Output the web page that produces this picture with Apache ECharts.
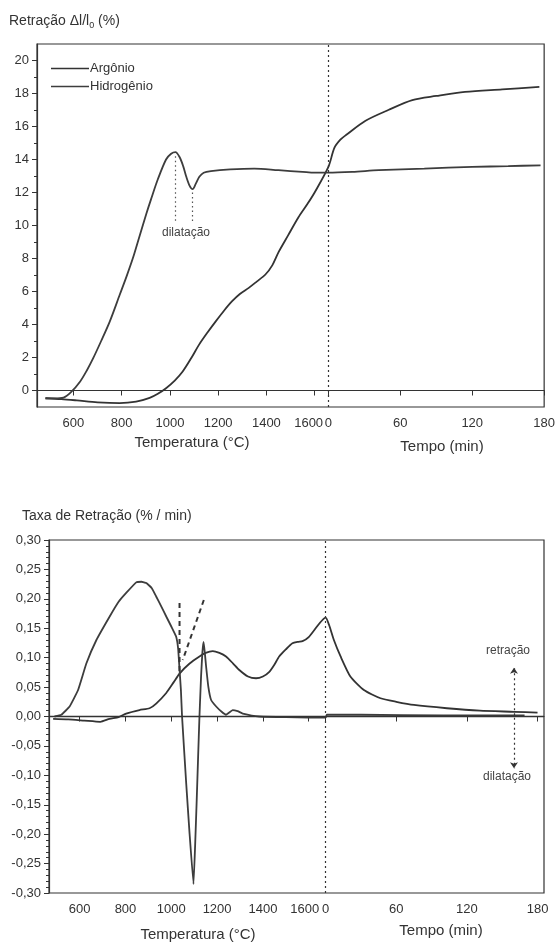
<!DOCTYPE html>
<html>
<head>
<meta charset="utf-8">
<script src="https://cdn.jsdelivr.net/npm/echarts@6/dist/echarts.min.js"></script>
<style>
  html, body { margin: 0; padding: 0; background: #fff; }
  #chart { width: 558px; height: 945px; }
</style>
</head>
<body>
<div id="chart"></div>
<script>
// ---- dados ----
// curva de retração (%) : aquecimento [T °C, valor] e patamar [t min, valor]
const topArgonHeat = [[484,-0.47],[550,-0.52],[614,-0.6],[700,-0.72],[792,-0.77],[860,-0.68],[916,-0.45],[950,-0.2],
  [984,0.14],[1020,0.6],[1053,1.15],[1090,2.0],[1121,2.78],[1155,3.5],[1190,4.19],[1225,4.85],[1258,5.41],
  [1290,5.85],[1327,6.22],[1360,6.6],[1396,7.03],[1425,7.6],[1451,8.4],[1490,9.4],[1533,10.5],[1570,11.3],[1600,12.0]]
const topArgonHold = [[0,13.55],[5,14.7],[10,15.2],[15,15.5],[31,16.35],[50,17.0],[70,17.6],[90,17.85],
  [114,18.1],[145,18.25],[176,18.4]]
const topHydroHeat = [[484,-0.47],[520,-0.48],[559,-0.43],[590,-0.1],[628,0.55],[655,1.2],[682,1.96],[715,3.0],
  [751,4.19],[792,5.8],[820,6.9],[847,8.04],[875,9.4],[902,10.7],[922,11.6],[950,12.8],[984,14.0],[1005,14.35],
  [1023,14.45],[1040,14.15],[1055,13.6],[1068,12.95],[1082,12.4],[1094,12.2],[1108,12.55],[1122,12.95],
  [1140,13.2],[1170,13.3],[1250,13.4],[1350,13.45],[1450,13.35],[1550,13.25],[1600,13.2]]
const topHydroHold = [[0,13.2],[20,13.25],[42,13.35],[80,13.45],[120,13.55],[150,13.6],[177,13.65]]

// taxa de retração (%/min)
const botArgonHeat = [[484,-0.004],[550,-0.005],[620,-0.007],[690,-0.009],[730,-0.004],[770,-0.001],[803,0.005],
  [861,0.011],[905,0.014],[934,0.022],[978,0.04],[1010,0.058],[1036,0.073],[1080,0.09],[1123,0.102],[1150,0.108],
  [1181,0.111],[1210,0.108],[1239,0.102],[1270,0.09],[1297,0.079],[1335,0.068],[1370,0.065],[1400,0.068],
  [1428,0.076],[1450,0.088],[1471,0.102],[1500,0.114],[1529,0.1245],[1555,0.127],[1573,0.128],[1600,0.135]]
const botArgonHold = [[0,0.168],[3,0.155],[7,0.13],[12.7,0.102],[21,0.068],[32.5,0.045],[46.6,0.031],[60,0.025],
  [75,0.0196],[103,0.014],[131,0.0099],[160,0.008],[180,0.0065]]
const botHydroHeat = [[490,0],[520,0.003],[556,0.017],[593,0.045],[629,0.09],[673,0.13],[731,0.17],[770,0.195],
  [803,0.21],[847,0.228],[870,0.229],[891,0.227],[915,0.218],[934,0.204],[955,0.188],[978,0.17],[1000,0.153],
  [1021,0.136],[1030,0.115],[1036,0.08],[1042,0.045],[1047,0],[1065,-0.113],[1080,-0.2],[1097,-0.285],
  [1104,-0.22],[1111,-0.142],[1117,-0.07],[1123,0],[1130,0.068],[1136,0.11],[1141,0.127],[1146,0.11],
  [1152,0.085],[1162,0.05],[1174,0.028],[1196,0.017],[1220,0.008],[1239,0.003],[1268,0.011],[1290,0.009],
  [1312,0.005],[1384,0],[1500,-0.001],[1600,-0.002]]
const botHydroHold = [[0,-0.002],[1,0.003],[30,0.003],[100,0.002],[169,0.002]]

// linhas tracejadas (tangentes) do gráfico de taxa
const tangent1 = [[1036,0.193],[1036,0.077]]
const tangent2 = [[1142,0.198],[1050,0.096]]

const topYLabels = [0,2,4,6,8,10,12,14,16,18,20]
const topYMinor = [1,3,5,7,9,11,13,15,17,19]
const tempTicks = [600,800,1000,1200,1400,1600]
const timeTicks = [0,60,120,180]

// eixo x composto: temperatura até 1600, depois o tempo de patamar
const T0_TOP = 1657, K_TOP = 4.97
const T0_BOT = 1674, K_BOT = 5.14
const topX = (t) => T0_TOP + K_TOP * t
const botX = (t) => T0_BOT + K_BOT * t

const joinTop = (heat, hold) => [...heat, ...hold.map((p) => [topX(p[0]), p[1]])]
const joinBot = (heat, hold) => [...heat, ...hold.map((p) => [botX(p[0]), p[1]])]

const topTicks = [...tempTicks, ...timeTicks.map(topX)]
const botTicks = [...tempTicks, ...timeTicks.map(botX)]

const INK = '#333'
const FONT = '"Liberation Sans", Arial, sans-serif'
const lbl = { color: INK, fontSize: 13, fontFamily: FONT }

// 1600 e 0 ficam colados: afasta um pouco o rótulo 1600
const xFmt = (T0, K) => (v) => {
  if (v <= 1600) return v === 1600 ? '{l|1600}' : String(Math.round(v))
  return String(Math.round((v - T0) / K))
}
const richTop = { l: { ...lbl, padding: [0, 12, 0, 0] } }
const richBot = { l: { ...lbl, padding: [0, 8, 0, 0] } }

const chart = echarts.init(document.getElementById('chart'))
chart.setOption({
  backgroundColor: '#fff',
  animation: false,
  textStyle: { fontFamily: FONT },
  grid: [
    { left: 37, right: 11, top: 44, height: 363, show: true, borderColor: INK, borderWidth: 1.2 },
    { left: 49, right: 14, top: 540, height: 353, show: true, borderColor: INK, borderWidth: 1.2 }
  ],
  legend: {
    left: 46, top: 57, orient: 'vertical', itemGap: 5, itemWidth: 38, itemHeight: 1.6, icon: 'rect',
    data: ['Argônio', 'Hidrogênio'], textStyle: { ...lbl, padding: [0, 0, 0, -4] }
  },
  xAxis: [
    { type: 'value', gridIndex: 0, min: 449, max: topX(180),
      axisLine: { lineStyle: { color: INK, width: 1.2 } },
      axisTick: { customValues: topTicks, length: 5, lineStyle: { color: INK } },
      axisLabel: { ...lbl, customValues: topTicks, margin: 10, formatter: xFmt(T0_TOP, K_TOP), rich: richTop },
      splitLine: { show: false } },
    { type: 'value', gridIndex: 1, min: 466, max: botX(185.5),
      axisLine: { lineStyle: { color: INK, width: 1.2 } },
      axisTick: { customValues: botTicks, length: 5, lineStyle: { color: INK } },
      axisLabel: { ...lbl, customValues: botTicks, margin: 10, formatter: xFmt(T0_BOT, K_BOT), rich: richBot },
      splitLine: { show: false } }
  ],
  yAxis: [
    { type: 'value', gridIndex: 0, min: -1, max: 21, position: 'left',
      axisLine: { show: true, lineStyle: { color: INK, width: 1.2 } },
      axisTick: { customValues: topYLabels, length: 5, lineStyle: { color: INK } },
      axisLabel: { ...lbl, customValues: topYLabels, margin: 8 },
      splitLine: { show: false } },
    { type: 'value', gridIndex: 0, min: -1, max: 21, position: 'left', offset: 0,
      axisLine: { show: false },
      axisTick: { customValues: topYMinor, length: 3, lineStyle: { color: INK } },
      axisLabel: { show: false },
      splitLine: { show: false } },
    { type: 'value', gridIndex: 1, min: -0.3, max: 0.3, interval: 0.05,
      axisLine: { show: true, lineStyle: { color: INK, width: 1.2 } },
      axisTick: { length: 5, lineStyle: { color: INK } },
      minorTick: { show: true, splitNumber: 5, length: 3, lineStyle: { color: INK } },
      axisLabel: { ...lbl, margin: 8, formatter: (v) => v.toFixed(2).replace('.', ',') },
      splitLine: { show: false } }
  ],
  series: [
    { name: 'Argônio', type: 'line', xAxisIndex: 0, yAxisIndex: 0, symbol: 'none', smooth: 0.3,
      lineStyle: { color: INK, width: 1.8 }, itemStyle: { color: INK },
      data: joinTop(topArgonHeat, topArgonHold),
      markLine: { silent: true, symbol: 'none', label: { show: false },
        lineStyle: { color: INK, type: [2, 3], width: 1.2 },
        data: [{ xAxis: topX(0) }] } },
    { name: 'Hidrogênio', type: 'line', xAxisIndex: 0, yAxisIndex: 0, symbol: 'none', smooth: 0.3,
      lineStyle: { color: '#3d3d3d', width: 1.8 }, itemStyle: { color: '#3d3d3d' },
      data: joinTop(topHydroHeat, topHydroHold),
      markLine: { silent: true, symbol: 'none', label: { show: false },
        lineStyle: { color: '#555', type: [1.5, 3], width: 1.2 },
        data: [
          [{ coord: [1023, 14.2] }, { coord: [1023, 10.1] }],
          [{ coord: [1094, 12.0] }, { coord: [1094, 10.1] }]
        ] } },
    { name: 'Argônio', type: 'line', xAxisIndex: 1, yAxisIndex: 2, symbol: 'none', smooth: 0.2,
      lineStyle: { color: INK, width: 1.8 },
      data: joinBot(botArgonHeat, botArgonHold),
      markLine: { silent: true, symbol: 'none', label: { show: false },
        lineStyle: { color: INK, type: [2, 3], width: 1.2 },
        data: [
          { xAxis: botX(0) },
          { yAxis: 0, lineStyle: { type: 'solid', width: 1.3 } },
          [{ coord: [botX(160), 0.002] }, { coord: [botX(160), 0.083], symbol: 'arrow', symbolSize: 6 }],
          [{ coord: [botX(160), -0.002] }, { coord: [botX(160), -0.088], symbol: 'arrow', symbolSize: 6 }]
        ] } },
    { name: 'Hidrogênio', type: 'line', xAxisIndex: 1, yAxisIndex: 2, symbol: 'none', smooth: 0.1,
      lineStyle: { color: '#3d3d3d', width: 1.8 },
      data: joinBot(botHydroHeat, botHydroHold) },
    { name: 'tangente', type: 'line', xAxisIndex: 1, yAxisIndex: 2, symbol: 'none', silent: true,
      lineStyle: { color: INK, width: 2, type: [5, 4] }, data: tangent1 },
    { name: 'tangente', type: 'line', xAxisIndex: 1, yAxisIndex: 2, symbol: 'none', silent: true,
      lineStyle: { color: INK, width: 2, type: [5, 4] }, data: tangent2 }
  ],
  graphic: [
    { type: 'text', x: 9, y: 12, style: { text: 'Retração Δl/l{s|0} (%)', fill: INK, font: '14px ' + FONT,
      rich: { s: { fontSize: 9, fill: INK, padding: [9, 0, 0, 0] } } } },
    { type: 'text', x: 22, y: 509, style: { text: 'Taxa de Retração (% / min)', fill: INK, font: '14px ' + FONT } },
    { type: 'text', x: 192, y: 443, style: { text: 'Temperatura (°C)', fill: INK, font: '15px ' + FONT, align: 'center', verticalAlign: 'middle' } },
    { type: 'text', x: 442, y: 447, style: { text: 'Tempo (min)', fill: INK, font: '15px ' + FONT, align: 'center', verticalAlign: 'middle' } },
    { type: 'text', x: 198, y: 935, style: { text: 'Temperatura (°C)', fill: INK, font: '15px ' + FONT, align: 'center', verticalAlign: 'middle' } },
    { type: 'text', x: 441, y: 931, style: { text: 'Tempo (min)', fill: INK, font: '15px ' + FONT, align: 'center', verticalAlign: 'middle' } },
    { type: 'text', x: 186, y: 233, style: { text: 'dilatação', fill: '#444', font: '12px ' + FONT, align: 'center', verticalAlign: 'middle' } },
    { type: 'text', x: 508, y: 651, style: { text: 'retração', fill: '#444', font: '12px ' + FONT, align: 'center', verticalAlign: 'middle' } },
    { type: 'text', x: 507, y: 777, style: { text: 'dilatação', fill: '#444', font: '12px ' + FONT, align: 'center', verticalAlign: 'middle' } }
  ]
})
</script>
</body>
</html>
